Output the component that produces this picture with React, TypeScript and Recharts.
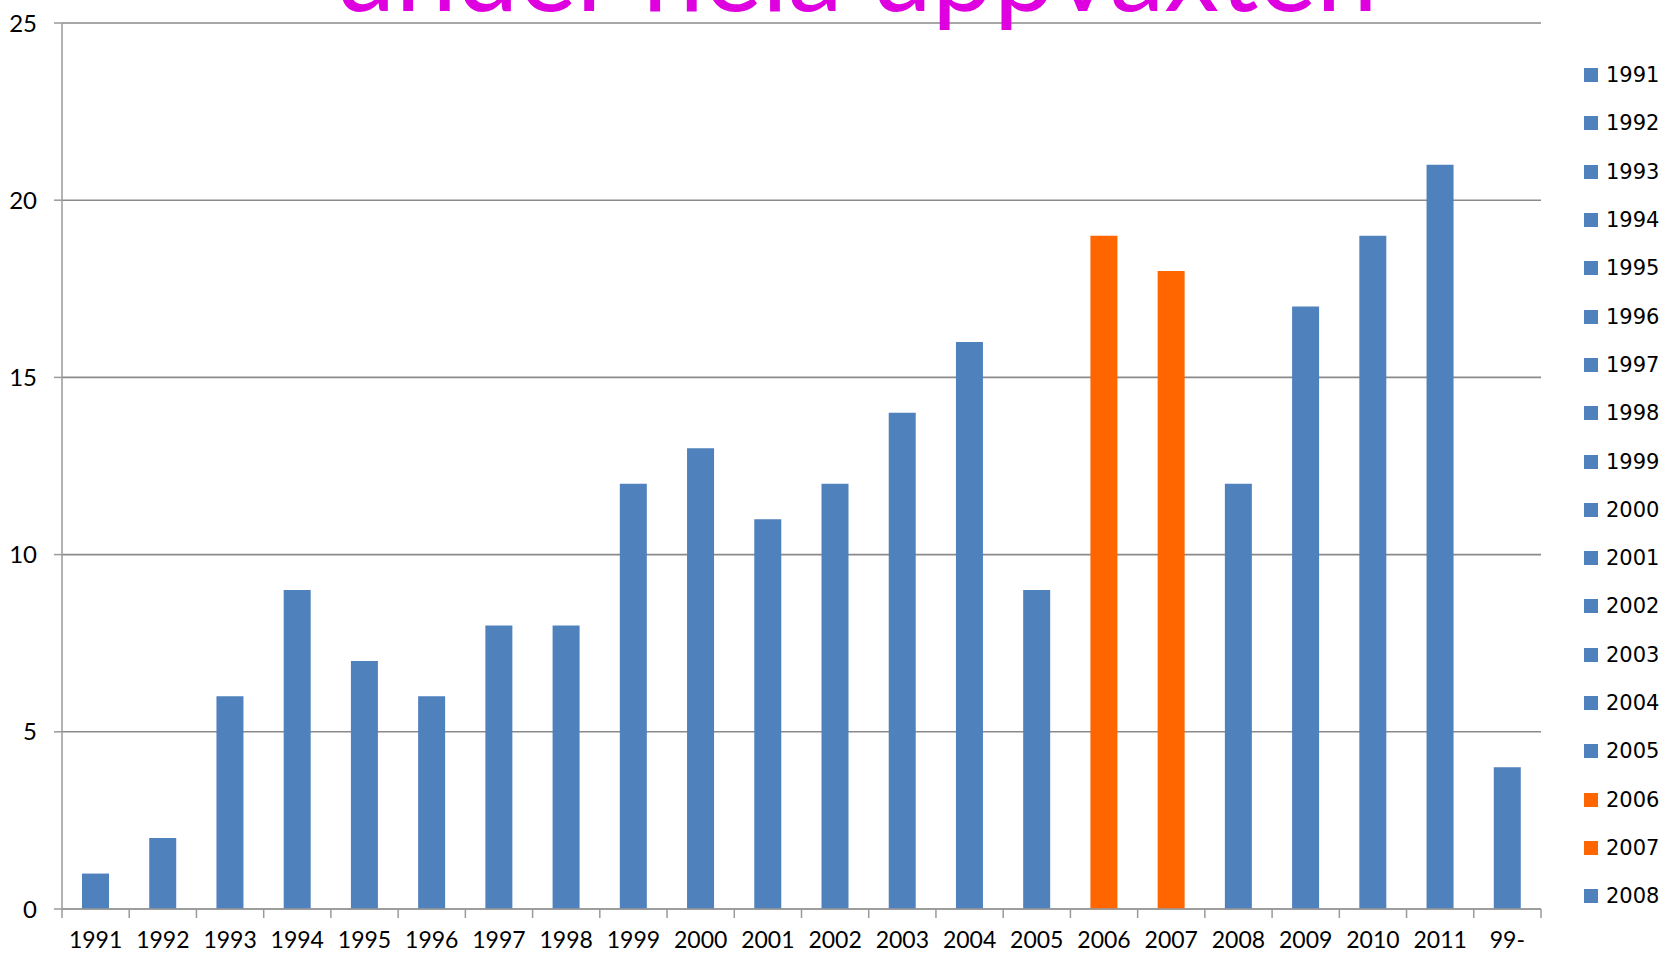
import { BarChart, Bar, Cell, XAxis, YAxis, CartesianGrid, Legend } from "recharts";

// år och antal
const years = [
  "1991", "1992", "1993", "1994", "1995", "1996", "1997", "1998", "1999", "2000", "2001",
  "2002", "2003", "2004", "2005", "2006", "2007", "2008", "2009", "2010", "2011", "99-",
];
const counts = [1, 2, 6, 9, 7, 6, 8, 8, 12, 13, 11, 12, 14, 16, 9, 19, 18, 12, 17, 19, 21, 4];
const highlightYears = ["2006", "2007"];
const yTicks = [0, 5, 10, 15, 20, 25];
// förklaringen får bara plats med de första 18 åren
const legendYears = years.slice(0, 18);
const title = "under hela uppväxten";

const BLUE = "#4F81BD";
const ORANGE = "#FF6600";
const AXIS = "#9a9a9a";
const colorFor = (year: string) => (highlightYears.includes(year) ? ORANGE : BLUE);

const data = years.map((year, i) => ({ year, count: counts[i] }));

const X_TICK_MARGIN = 23;
const X_MARK = 9;

// etikett + streck mellan kategorierna (som i Excel)
const YearTick = (props: any) => {
  const { x, y, payload, index, visibleTicksCount } = props;
  const axisY = y - X_TICK_MARGIN;
  const half = payload.offset ?? 0;
  return (
    <g>
      <line x1={x - half} x2={x - half} y1={axisY} y2={axisY + X_MARK} stroke={AXIS} strokeWidth={1.5} />
      {index === visibleTicksCount - 1 && (
        <line x1={x + half} x2={x + half} y1={axisY} y2={axisY + X_MARK} stroke={AXIS} strokeWidth={1.5} />
      )}
      <text x={x} y={y} dy="0.71em" textAnchor="middle" fill="#000" fontSize={23} fontFamily="Lato">
        {payload.value}
      </text>
    </g>
  );
};

const renderLegend = () => (
  <div style={{ fontFamily: "DejaVu Sans", fontSize: 21, color: "#000" }}>
    {legendYears.map((y) => (
      <div key={y} style={{ display: "flex", alignItems: "center", height: 48.3 }}>
        <span style={{ width: 14, height: 14, background: colorFor(y), marginRight: 8 }} />
        <span>{y}</span>
      </div>
    ))}
  </div>
);

export default function App() {
  return (
    <div style={{ position: "fixed", left: 0, top: 0, background: "#fff" }}>
      <BarChart
        width={1663}
        height={954}
        data={data}
        margin={{ top: 23, right: 122, left: 0, bottom: 0 }}
        barSize={27}
      >
        <CartesianGrid vertical={false} stroke="#8a8a8a" strokeWidth={1.6} />
        <XAxis
          dataKey="year"
          height={45}
          tickLine={false}
          tickSize={0}
          tickMargin={X_TICK_MARGIN}
          interval={0}
          stroke={AXIS}
          strokeWidth={1.5}
          tick={<YearTick />}
        />
        <YAxis
          width={62}
          domain={[0, 25]}
          ticks={yTicks}
          tickSize={8}
          tickMargin={17}
          stroke={AXIS}
          strokeWidth={1.5}
          tick={{ fill: "#000", fontSize: 24, fontFamily: "Lato" }}
        />
        <Legend
          layout="vertical"
          align="center"
          verticalAlign="middle"
          content={renderLegend}
          wrapperStyle={{ left: 1584, top: 51, width: 79 }}
        />
        <Bar dataKey="count" isAnimationActive={false}>
          {data.map((d) => (
            <Cell key={d.year} fill={colorFor(d.year)} />
          ))}
        </Bar>
        <text
          x={856}
          y={11}
          textAnchor="middle"
          fill="#DF00DF"
          fontFamily="Lato"
          fontSize={110}
        >
          {title}
        </text>
      </BarChart>
    </div>
  );
}
